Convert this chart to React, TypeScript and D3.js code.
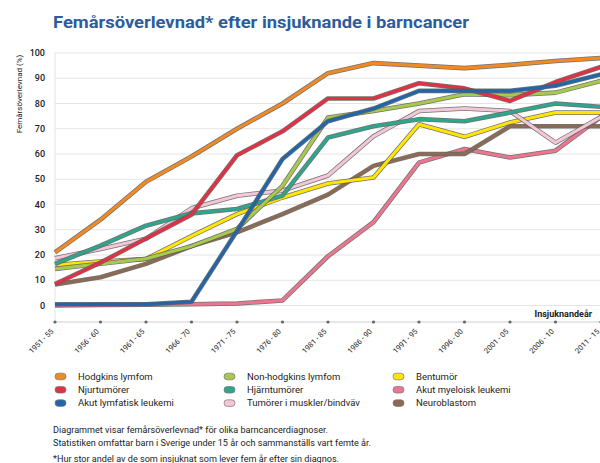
import React from "react"
import * as d3 from "d3"

// Insjuknandeperioder
const periods = [
  "1951 - 55", "1956 - 60", "1961 - 65", "1966 - 70", "1971 - 75", "1976 - 80", "1981 - 85",
  "1986 - 90", "1991 - 95", "1996 - 00", "2001 - 05", "2006 - 10", "2011 - 15"
]

const yTicks = [0, 10, 20, 30, 40, 50, 60, 70, 80, 90, 100]

// Femårsöverlevnad (%) per diagnos
const hodgkins = [21, 34, 49, 59, 70, 80, 92, 96, 95, 94, 95.3, 96.8, 98]
const njur = [8.5, 17, 26.5, 36, 59.5, 69, 82, 82, 88, 86, 81, 88.5, 94.5]
const akutLymfatisk = [0.5, 0.5, 0.5, 1.5, 29.5, 58, 73, 78, 85, 85, 85, 87, 91.5]
const nonHodgkins = [14.5, 16.5, 18.5, 23.5, 30.3, 47.4, 74.4, 77, 80, 83.7, 83.3, 84.3, 89]
const hjarn = [16.5, 23.7, 31.6, 36.5, 38.2, 43.5, 66.5, 71, 73.8, 73, 76.4, 80, 78.7]
const muskler = [18.7, 22.4, 26.4, 38.5, 43.5, 45.5, 51.5, 67, 77, 78, 77, 64.5, 74.7]
const bentumor = [16, 17.4, 18.4, 27.5, 36.2, 42.8, 48.3, 50.7, 71.8, 66.8, 72.5, 76.4, 76.4]
const neuroblastom = [8.3, 11.2, 16.5, 23.5, 29, 36.2, 43.9, 55.3, 60, 60, 71, 71, 71]
const akutMyeloisk = [0, 0.2, 0.3, 0.5, 0.8, 2, 19.5, 33, 56.6, 62, 58.6, 61.3, 74.7]

type Series = { name: string; color: string; values: number[] }

const series: Series[] = [
  { name: "Hodgkins lymfom", color: "#f08a24", values: hodgkins },
  { name: "Njurtumörer", color: "#e23145", values: njur },
  { name: "Akut lymfatisk leukemi", color: "#2366a8", values: akutLymfatisk },
  { name: "Non-hodgkins lymfom", color: "#a8c84e", values: nonHodgkins },
  { name: "Hjärntumörer", color: "#2fa58c", values: hjarn },
  { name: "Tumörer i muskler/bindväv", color: "#f3c6d8", values: muskler },
  { name: "Bentumör", color: "#ffe600", values: bentumor },
  { name: "Akut myeloisk leukemi", color: "#ec7690", values: akutMyeloisk },
  { name: "Neuroblastom", color: "#8c6a53", values: neuroblastom },
]

// ritordning, underst först
const drawOrder = [
  "Akut myeloisk leukemi", "Neuroblastom", "Bentumör", "Tumörer i muskler/bindväv", "Hjärntumörer",
  "Non-hodgkins lymfom", "Njurtumörer", "Akut lymfatisk leukemi", "Hodgkins lymfom"
]

const footnotes = [
  "Diagrammet visar femårsöverlevnad* för olika barncancerdiagnoser.",
  "Statistiken omfattar barn i Sverige under 15 år och sammanställs vart femte år.",
  "*Hur stor andel av de som insjuknat som lever fem år efter sin diagnos."
]

const W = 600
const H = 463
const font = "Roboto, 'Liberation Sans', sans-serif"

const App = () => {
  const x = d3.scalePoint<string>().domain(periods).range([55, 601])
  const y = d3.scaleLinear().domain([0, 100]).range([305.5, 53])
  const axisY = 322

  const line = d3.line<number>()
    .x((d, i) => x(periods[i]) as number)
    .y(d => y(d))

  const ordered = drawOrder.map(n => series.find(s => s.name === n) as Series)

  return (
    <svg width={W} height={H} style={{ position: "absolute", left: 0, top: 0, background: "#fff" }} fontFamily={font}>
      <text x={53} y={28} fontSize={17} fontWeight={700} fill="#2d5c9e" textLength={416} lengthAdjust="spacingAndGlyphs">
        Femårsöverlevnad* efter insjuknande i barncancer
      </text>

      {/* rutnät */}
      {yTicks.map(t => (
        <line key={t} x1={55} x2={W} y1={y(t)} y2={y(t)} stroke="#e4e4e4" strokeWidth={1} />
      ))}
      <line x1={55} x2={55} y1={y(100)} y2={axisY} stroke="#e4e4e4" strokeWidth={1} />

      {yTicks.map(t => (
        <text key={t} x={45} y={y(t)} dy="0.35em" textAnchor="end" fontSize={9} fontWeight={500} fill="#222">{t}</text>
      ))}
      <text transform={`translate(22,94) rotate(-90)`} textAnchor="middle" fontSize={8} fill="#222">Femårsöverlevnad (%)</text>

      {/* x-axel */}
      <line x1={54} x2={W} y1={axisY} y2={axisY} stroke="#cfcfcf" strokeWidth={1} />
      {periods.map(p => (
        <g key={p}>
          <circle cx={x(p)} cy={axisY} r={1.6} fill="#666" />
          <text transform={`translate(${(x(p) as number) - 1},${axisY + 10}) rotate(-45)`} textAnchor="end" fontSize={7.5} fill="#222">{p}</text>
        </g>
      ))}
      <text x={592} y={317} textAnchor="end" fontSize={9} fontWeight={700} fill="#222">Insjuknandeår</text>

      {/* linjer */}
      {ordered.map(s => (
        <g key={s.name}>
          <path d={line(s.values) as string} fill="none" stroke="#5a5a5a" strokeOpacity={0.85} strokeWidth={4.6} strokeLinejoin="round" />
          <path d={line(s.values) as string} fill="none" stroke={s.color} strokeWidth={3.1} strokeLinejoin="round" />
        </g>
      ))}

      {/* teckenförklaring */}
      {series.map((s, i) => {
        const col = Math.floor(i / 3)
        const row = i % 3
        const lx = [55, 224, 393][col]
        const ly = 376.5 + row * 13.3
        return (
          <g key={s.name}>
            <rect x={lx} y={ly - 3.3} width={11} height={6.6} rx={3.3} fill={s.color} stroke="#777" strokeWidth={0.7} />
            <text x={lx + 23} y={ly + 3.2} fontSize={9.5} fill="#222">{s.name}</text>
          </g>
        )
      })}

      {footnotes.map((f, i) => (
        <text key={i} x={53} y={[433, 446, 461.5][i]} fontSize={9.1} fill="#222">{f}</text>
      ))}
    </svg>
  )
}

export default App
